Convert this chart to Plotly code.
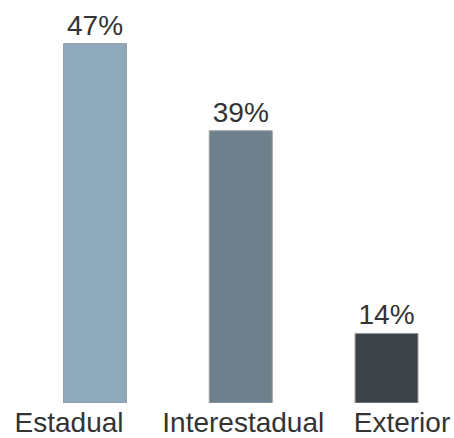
import plotly.graph_objects as go

categories = ["Estadual", "Interestadual", "Exterior"]
label_values = [47, 39, 14]          # percentages printed above bars
bar_heights = [47, 35.6, 9.1]        # bar lengths as drawn in the picture
bar_colors = ["#8fa9bc", "#6e808c", "#3e4347"]
label_offsets = [-0.178, 0.017, 0.106]  # category label shift from bar centre

x_pos = list(range(len(categories)))
texts = [f"{v}%" for v in label_values]

fig = go.Figure(
    go.Bar(
        x=x_pos,
        y=bar_heights,
        width=0.432,
        marker=dict(color=bar_colors, line=dict(color="#9a9ea2", width=1)),
        text=texts,
        textposition="outside",
        cliponaxis=False,
        textfont=dict(family="Liberation Sans, Arial, sans-serif", size=28, color="#333333"),
    )
)

fig.update_layout(
    width=454,
    height=438,
    margin=dict(l=0, r=0, t=0, b=31),
    paper_bgcolor="white",
    plot_bgcolor="white",
    showlegend=False,
    xaxis=dict(
        range=[-0.652, 2.463],
        tickvals=[p + o for p, o in zip(x_pos, label_offsets)],
        ticktext=categories,
        showgrid=False,
        zeroline=False,
        showline=False,
        ticks="",
        tickfont=dict(family="Liberation Sans, Arial, sans-serif", size=28, color="#333333"),
    ),
    yaxis=dict(
        range=[0, 52.7],
        visible=False,
        showgrid=False,
        zeroline=False,
    ),
    uniformtext=dict(mode=False),
)

fig.write_html("out.html")
